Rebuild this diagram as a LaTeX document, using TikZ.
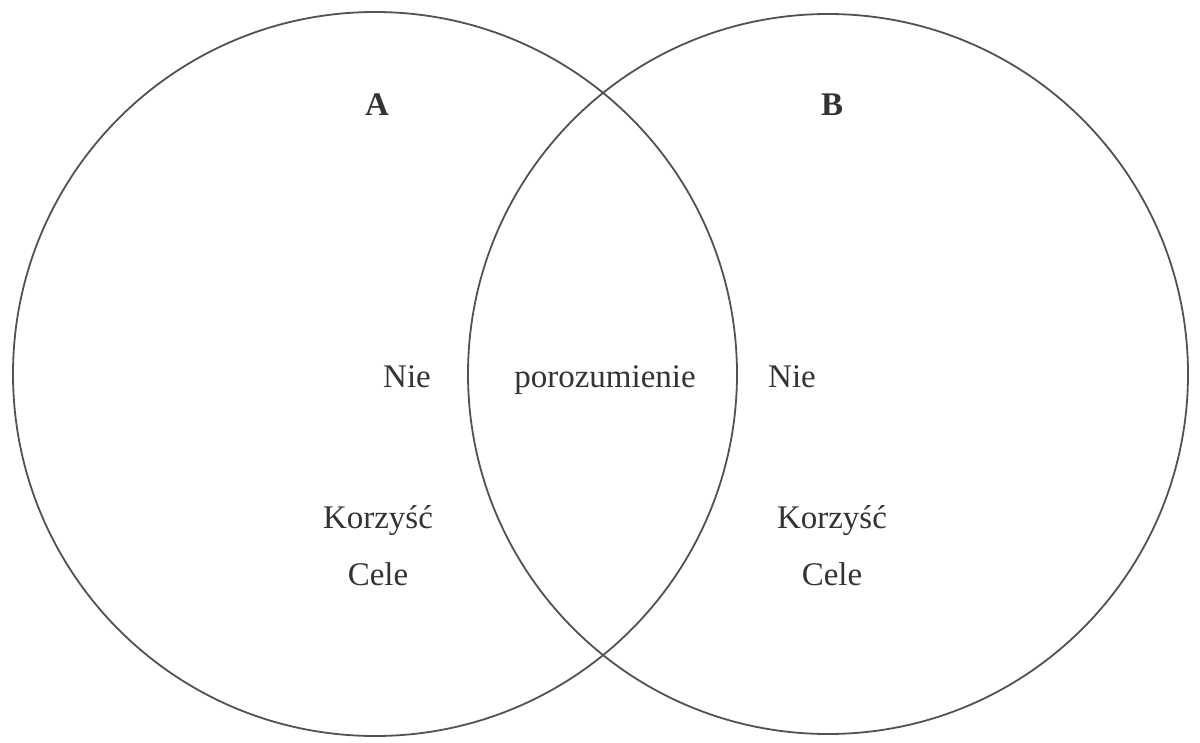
\documentclass[tikz,border=0pt]{standalone}
\usepackage{fontspec}
\setmainfont{Liberation Serif}
\begin{document}
\begin{tikzpicture}[x=1pt,y=-1pt,
  ring/.style={draw=black!68,line width=1.8pt},
  lbl/.style={anchor=base,inner sep=0pt,text=black!80,font=\fontsize{33}{36}\selectfont},
  head/.style={lbl,font=\fontsize{33}{36}\selectfont\bfseries}]
  \useasboundingbox[fill=white] (0,0) rectangle (1200,742);
  % two overlapping sets
  \node[ring,circle,minimum size=724pt,inner sep=0pt] (setA) at (375,374) {};
  \node[ring,circle,minimum size=720pt,inner sep=0pt] (setB) at (828,374) {};
  % set names (positions are baselines)
  \node[head] (nameA) at (377,115) {A};
  \node[head] (nameB) at (832,115) {B};
  % middle row
  \node[lbl] (nieA) at (407,387) {Nie};
  \node[lbl] (poroz) at (605,387) {porozumienie};
  \node[lbl] (nieB) at (792,387) {Nie};
  % lower entries
  \node[lbl] (korA) at (378,528) {Korzyść};
  \node[lbl] (celA) at (378,585) {Cele};
  \node[lbl] (korB) at (832,528) {Korzyść};
  \node[lbl] (celB) at (832,585) {Cele};
\end{tikzpicture}
\end{document}
